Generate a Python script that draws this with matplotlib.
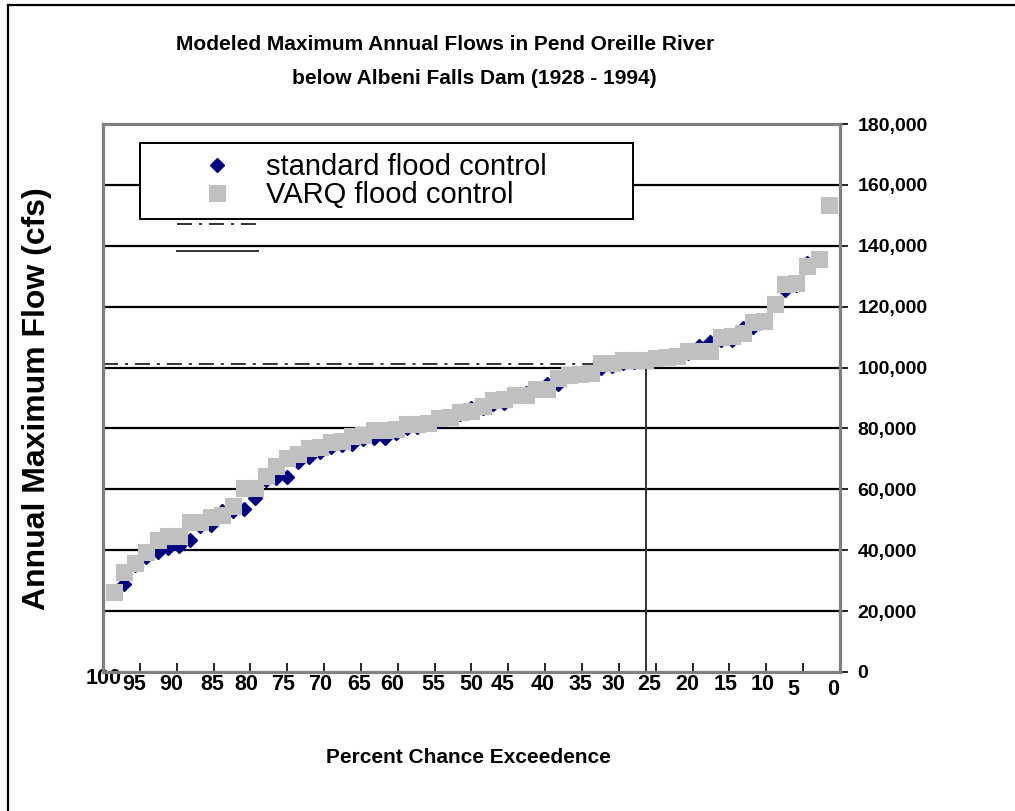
"""
Modeled maximum annual flows below Albeni Falls Dam,
standard vs VARQ flood control, plotted as exceedence curves.
"""
import matplotlib
matplotlib.use("Agg")
import matplotlib.pyplot as plt
import matplotlib.transforms as mtransforms
from matplotlib.lines import Line2D
from matplotlib.ticker import FuncFormatter

plt.rcParams['font.family'] = ['Liberation Sans', 'DejaVu Sans']
plt.rcParams['lines.scale_dashes'] = False

# percent chance exceedence of each ranked year (high to low)
exceedence = [98.5, 97.1, 95.6, 94.1, 92.6, 91.2, 89.7, 88.2, 86.8, 85.3,
              83.8, 82.4, 80.9, 79.4, 77.9, 76.5, 75.0, 73.5, 72.1, 70.6,
              69.1, 67.6, 66.2, 64.7, 63.2, 61.8, 60.3, 58.8, 57.4, 55.9,
              54.4, 52.9, 51.5, 50.0, 48.5, 47.1, 45.6, 44.1, 42.6, 41.2,
              39.7, 38.2, 36.8, 35.3, 33.8, 32.4, 30.9, 29.4, 27.9, 26.5,
              25.0, 23.5, 22.1, 20.6, 19.1, 17.6, 16.2, 14.7, 13.2, 11.8,
              10.3, 8.8, 7.4, 5.9, 4.4, 2.9, 1.5]

# annual maximum flow (cfs), standard flood control
standard_flow = [25800, 28900, 35200, 37800, 39400, 40700, 41400, 43400, 47800, 48400,
                 52800, 52900, 53500, 57200, 63100, 63600, 64100, 69000, 70600, 72400,
                 73900, 74600, 74900, 76500, 76800, 76900, 78600, 80100, 80500, 82200,
                 82500, 83800, 84700, 86700, 86800, 88100, 88500, 90700, 91700, 93000,
                 94500, 94700, 97800, 97900, 98300, 99700, 100500, 101600, 101700, 102300,
                 103100, 103500, 104100, 104800, 107000, 108500, 109000, 109100, 113000, 113400,
                 115100, 120600, 125500, 127100, 134300, 135300, 153400]

# annual maximum flow (cfs), VARQ flood control
varq_flow = [26300, 32800, 35800, 39400, 43300, 44700, 44700, 49300, 49300, 50900,
             51600, 54500, 60400, 60400, 64400, 67700, 70300, 71600, 73700, 73800,
             75700, 75800, 77600, 77700, 79500, 79600, 79700, 81500, 81600, 81700,
             83400, 83600, 85400, 85600, 87500, 89300, 89700, 90900, 91100, 92800,
             93000, 96500, 97600, 97800, 98300, 101400, 101600, 102400, 102500, 102600,
             103200, 103500, 103700, 105300, 105400, 105600, 110000, 110500, 111500, 114800,
             115400, 120900, 127500, 127900, 133200, 135700, 153500]

# reference lines
ref_flow = 101300
ref_exceedence = 26.3

x_ticks = [100, 95, 90, 85, 80, 75, 70, 65, 60, 55, 50, 45, 40, 35, 30, 25, 20, 15, 10, 5, 0]
y_ticks = [0, 20000, 40000, 60000, 80000, 100000, 120000, 140000, 160000, 180000]
grid_levels = [20000, 40000, 60000, 80000, 100000, 120000, 140000, 160000]

# label nudges in pixels (dx, dy), mimicking the original layout
x_label_nudge = [(1, 6), (-6, 0), (-6, 0), (-1, 0), (-4, 0), (-4, 0), (-4, 0),
                 (-2, 0), (-6, 0), (-1, 0), (0, 0), (-6, 0), (-3, 0), (-2, 0),
                 (-5, 0), (-6, 0), (-5, 0), (-4, 0), (-4, 0), (-10, -5), (-7, -5)]

DASHDOT = (0, (10.8, 5, 2.2, 5))
LINE_GREY = '#333333'

fig = plt.figure(figsize=(10.15, 8.11), dpi=100)
ax = fig.add_axes([0.1015, 0.1714, 0.726, 0.6757])

# gridlines
for lev in grid_levels:
    ax.axhline(lev, color='black', linewidth=1.6, zorder=1)

# reference lines
ax.plot([100, ref_exceedence], [ref_flow, ref_flow], color=LINE_GREY,
        linewidth=1.4, linestyle=DASHDOT, zorder=2)
ax.plot([ref_exceedence, ref_exceedence], [0, ref_flow], color=LINE_GREY,
        linewidth=1.4, zorder=2)

# data
ax.plot(exceedence, standard_flow, linestyle='none', marker='D',
        markersize=7.6, color='#000080', markeredgecolor='#000080',
        markeredgewidth=1.0, label='standard flood control', zorder=3)
ax.plot(exceedence, varq_flow, linestyle='none', marker='s',
        markersize=10.8, color='#C0C0C0', markeredgecolor='#C0C0C0',
        markeredgewidth=1.5, label='VARQ flood control', zorder=4)

ax.set_xlim(100, 0)
ax.set_ylim(0, 180000)

for side in ['left', 'right', 'top', 'bottom']:
    ax.spines[side].set_color('#808080')
    ax.spines[side].set_linewidth(2.3)
    ax.spines[side].set_zorder(5)

ax.yaxis.tick_right()
ax.set_yticks(y_ticks)
ax.yaxis.set_major_formatter(FuncFormatter(lambda v, p: f'{int(v):,}'))
ax.tick_params(axis='y', direction='out', length=5.8, width=1.2, color='black',
               pad=7, labelsize=14)
ax.set_xticks(x_ticks)
ax.set_xticklabels([str(t) for t in x_ticks])
ax.tick_params(axis='x', direction='in', length=6.5, width=1.2, color='black',
               pad=1.5, labelsize=15.5, top=False)
for lab in ax.get_yticklabels() + ax.get_xticklabels():
    lab.set_fontweight('bold')

for lab, (dx, dy) in zip(ax.get_xticklabels(), x_label_nudge):
    shift = mtransforms.ScaledTranslation(dx / 100, dy / 100, fig.dpi_scale_trans)
    lab.set_transform(lab.get_transform() + shift)

# legend
leg = ax.legend(loc='upper left', bbox_to_anchor=(0.0502, 0.0, 0.669, 0.9653),
                mode='expand', borderaxespad=0, fontsize=21, labelspacing=0.0,
                handlelength=4.6, handletextpad=-0.63, borderpad=0.34,
                fancybox=False, framealpha=1, edgecolor='black')
leg.get_frame().set_linewidth(1.4)
leg.set_zorder(6)

# stray legend line samples below the box
ax.add_line(Line2D([0.101, 0.210], [0.8175, 0.8175], transform=ax.transAxes,
                   color=LINE_GREY, linewidth=1.4, linestyle=DASHDOT, zorder=6))
ax.add_line(Line2D([0.101, 0.210], [0.768, 0.768], transform=ax.transAxes,
                   color=LINE_GREY, linewidth=1.4, zorder=6))

# titles and axis labels
fig.text(0.4384, 0.9457, 'Modeled Maximum Annual Flows in Pend Oreille River',
         ha='center', va='center', fontsize=15, fontweight='bold')
fig.text(0.467, 0.9038, 'below Albeni Falls Dam (1928 - 1994)',
         ha='center', va='center', fontsize=15, fontweight='bold')
fig.text(0.0365, 0.509, 'Annual Maximum Flow (cfs)', rotation=90,
         ha='center', va='center', fontsize=23, fontweight='bold')
fig.text(0.462, 0.0654, 'Percent Chance Exceedence',
         ha='center', va='center', fontsize=15, fontweight='bold')

# outer border (left and top edges only)
fig.add_artist(Line2D([8 / 1015, 8 / 1015], [0, 1 - 5 / 811],
                      transform=fig.transFigure, color='black', linewidth=1.6))
fig.add_artist(Line2D([8 / 1015, 1], [1 - 5 / 811, 1 - 5 / 811],
                      transform=fig.transFigure, color='black', linewidth=1.6))

fig.savefig('out.png', dpi=100)
